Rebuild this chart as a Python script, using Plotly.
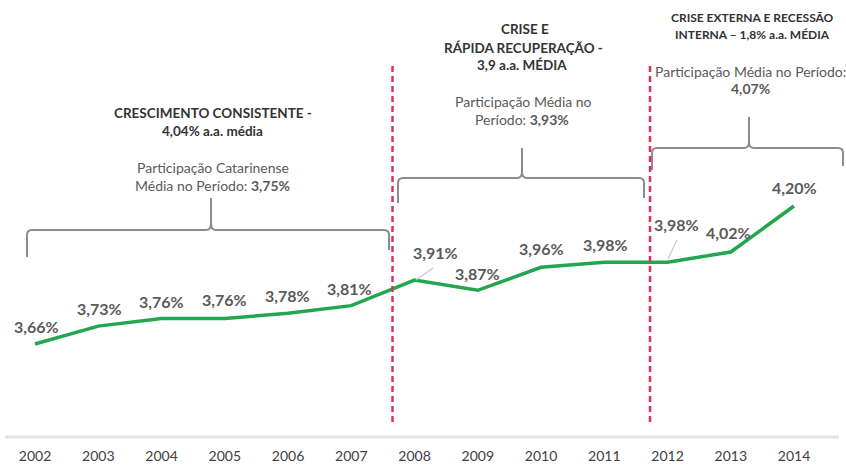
import plotly.graph_objects as go

# ---------------- data ----------------
years = [2002, 2003, 2004, 2005, 2006, 2007, 2008, 2009, 2010, 2011, 2012, 2013, 2014]
share = [3.66, 3.73, 3.76, 3.76, 3.78, 3.81, 3.91, 3.87, 3.96, 3.98, 3.98, 4.02, 4.20]
labels = ["3,66%", "3,73%", "3,76%", "3,76%", "3,78%", "3,81%", "3,91%",
          "3,87%", "3,96%", "3,98%", "3,98%", "4,02%", "4,20%"]
tick_labels = [str(y) for y in years]

period_titles = [
    ["CRESCIMENTO CONSISTENTE -", "4,04% a.a. média"],
    ["CRISE E", "RÁPIDA RECUPERAÇÃO -", "3,9 a.a. MÉDIA"],
    ["CRISE EXTERNA E RECESSÃO", "INTERNA – 1,8% a.a. MÉDIA"],
]
period_notes = [
    ["Participação Catarinense", "Média no Período: <b>3,75%</b>"],
    ["Participação Média no", "Período: <b>3,93%</b>"],
    ["Participação Média no Período:", "<b>4,07%</b>"],
]

W, H = 846, 466
PLOT_H = 437  # plot area bottom (px)
FONT = "Lato, 'Open Sans', sans-serif"
LINE_GREEN = "#22a650"
TXT = "#5a5a5a"

def px(x):
    return x / W

def py(y):
    return 1 - y / PLOT_H

fig = go.Figure()
fig.add_trace(go.Scatter(
    x=years, y=share, mode="lines",
    line=dict(color=LINE_GREEN, width=3.5),
    hoverinfo="skip", showlegend=False,
))

annotations = []
# per-label pixel offsets (dx, dy) relative to the point
offsets = [(1, -18), (1, -18), (0, -17), (0, -19), (-1, -18), (-2, -17), (21, -28),
           (0, -17), (0, -19), (1, -18), (9, -38), (-2, -19), (0, -18)]
for xv, yv, lab, (dx, dy) in zip(years, share, labels, offsets):
    annotations.append(dict(
        x=xv, y=yv, xref="x", yref="y", text=f"<b>{lab}</b>", showarrow=False,
        xshift=dx, yshift=-dy, font=dict(family=FONT, size=16, color=TXT),
        xanchor="center", yanchor="middle",
    ))

# block texts (pixel centres)
title_pos = [
    [(213, 113), (213, 131)],
    [(525, 29), (523, 48), (522, 65)],
    [(752, 18), (752, 35)],
]
title_sizes = [13.5, 13.5, 12]
note_pos = [
    [(213, 167), (213, 186)],
    [(523, 101), (522, 119)],
    [(750, 71), (750, 88)],
]
for lines, poss, fs in zip(period_titles, title_pos, title_sizes):
    for t, (x, y) in zip(lines, poss):
        annotations.append(dict(
            x=px(x), y=py(y), xref="paper", yref="paper", text=f"<b>{t}</b>",
            showarrow=False, font=dict(family=FONT, size=fs, color="#333333"),
            xanchor="center", yanchor="middle",
        ))
for lines, poss in zip(period_notes, note_pos):
    for t, (x, y) in zip(lines, poss):
        annotations.append(dict(
            x=px(x), y=py(y), xref="paper", yref="paper", text=t,
            showarrow=False, font=dict(family=FONT, size=14, color=TXT),
            xanchor="center", yanchor="middle",
        ))

shapes = []

def brace(x0, x1, xm, yb, tip, yl, yr, r=5):
    def P(x, y):
        return f"{px(x):.5f},{py(y):.5f}"
    path = (f"M {P(x0, yl)} L {P(x0, yb + r)} Q {P(x0, yb)} {P(x0 + r, yb)} "
            f"L {P(xm - 5, yb)} Q {P(xm, yb)} {P(xm, yb - 6)} L {P(xm, tip)} "
            f"M {P(xm, yb - 6)} Q {P(xm, yb)} {P(xm + 5, yb)} "
            f"L {P(x1 - r, yb)} Q {P(x1, yb)} {P(x1, yb + r)} L {P(x1, yr)}")
    return dict(type="path", path=path, xref="paper", yref="paper",
                line=dict(color="#8c8c8c", width=2))

shapes.append(brace(27, 389, 211, 230, 198, 257, 250))
shapes.append(brace(398, 644, 522, 178, 148, 203, 198))
shapes.append(brace(652, 843, 749, 148, 117, 170, 166))

# red dashed dividers
for x in (392.5, 650):
    shapes.append(dict(type="line", xref="paper", yref="paper",
                       x0=px(x), x1=px(x), y0=py(66), y1=py(423),
                       line=dict(color="#e0305a", width=2.5, dash="6px,4px")))

# leader lines
for (xa, ya, xb, yb) in [(433, 268, 416, 280), (677, 240, 668, 259)]:
    shapes.append(dict(type="line", xref="paper", yref="paper",
                       x0=px(xa), y0=py(ya), x1=px(xb), y1=py(yb),
                       line=dict(color="#c8c8c8", width=1.2)))

# baseline
shapes.append(dict(type="line", xref="paper", yref="paper",
                   x0=px(5), x1=px(839), y0=py(437), y1=py(437),
                   line=dict(color="#e3e3e3", width=3)))

step = 63.25
x_lo = 2002 - 35 / step
x_hi = 2002 + (W - 35) / step
slope = 255.6
y_lo = 3.66 - (PLOT_H - 344) / slope
y_hi = 3.66 + 344 / slope

fig.update_layout(
    width=W, height=H,
    margin=dict(l=0, r=0, t=0, b=H - PLOT_H),
    paper_bgcolor="white", plot_bgcolor="white",
    xaxis=dict(range=[x_lo, x_hi], tickvals=years, ticktext=tick_labels,
               showgrid=False, zeroline=False, showline=False, ticks="",
               ticklabelstandoff=9,
               tickfont=dict(family=FONT, size=14, color="#404040")),
    yaxis=dict(range=[y_lo, y_hi], showgrid=False, zeroline=False,
               showticklabels=False, showline=False),
    annotations=annotations, shapes=shapes, showlegend=False,
)

fig.write_html("out.html")
